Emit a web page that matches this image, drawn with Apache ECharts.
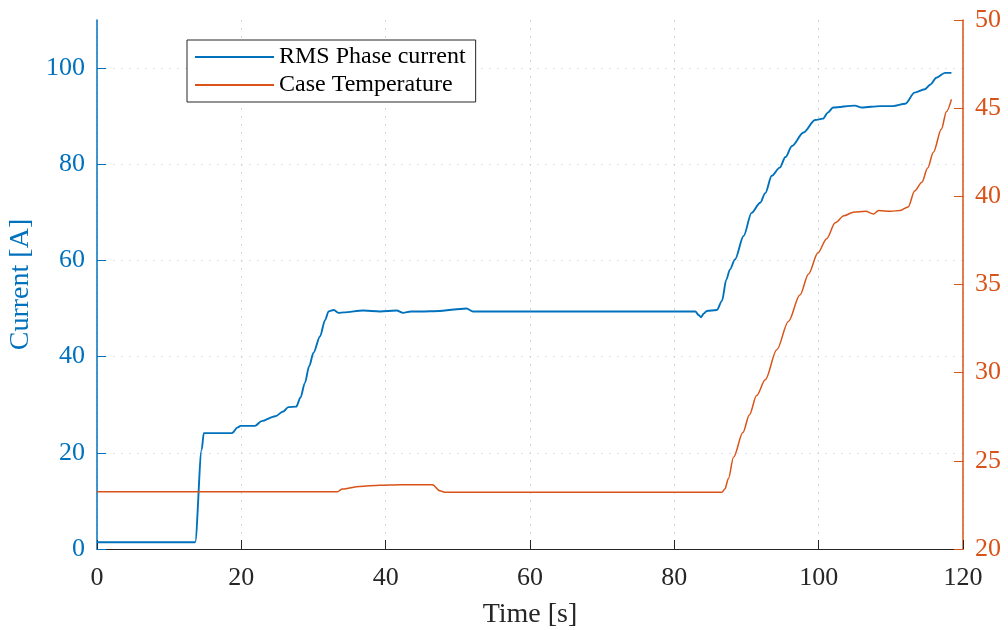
<!DOCTYPE html>
<html>
<head>
<meta charset="utf-8">
<script src="https://cdn.jsdelivr.net/npm/echarts@6/dist/echarts.min.js"></script>
<style>
html,body{margin:0;padding:0;background:#fff;}
#chart{width:1008px;height:630px;}
</style>
</head>
<body>
<div id="chart"></div>
<script>
// Tick values
const xTicks = [0, 20, 40, 60, 80, 100, 120];
const leftTicks = [0, 20, 40, 60, 80, 100];
const rightTicks = [20, 25, 30, 35, 40, 45, 50];

// RMS Phase current [A]
const currentTime = [0, 13.6, 14.5, 14.8, 18.7, 19.5, 19.9, 21.9, 22.8, 24.7, 25.8, 26.5, 27.6, 28.2, 28.8, 29.4, 30.0, 30.9, 31.6, 32.1, 32.8, 33.5, 34.2, 36.9, 39.2, 41.5, 42.4, 43.5, 44.8, 47.5, 49.5, 51.2, 52.1, 82.9, 83.4, 83.7, 84.1, 84.5, 85.9, 86.6, 87.2, 87.7, 88.4, 89.6, 90.7, 91.9, 92.6, 93.5, 94.6, 95.4, 96.3, 97.9, 99.5, 100.6, 101.3, 102.0, 105.0, 106.0, 108.5, 110.3, 112.0, 113.3, 114.7, 115.5, 116.3, 117.5, 118.4];
const currentValues = [1.4, 1.4, 20.6, 24.1, 24.1, 25.3, 25.6, 25.6, 26.6, 27.6, 28.6, 29.5, 29.6, 31.5, 34.5, 38.0, 40.8, 44.2, 47.6, 49.4, 49.7, 49.1, 49.2, 49.6, 49.4, 49.6, 49.1, 49.4, 49.4, 49.5, 49.8, 50.0, 49.4, 49.4, 48.6, 48.2, 49.0, 49.5, 49.7, 51.6, 56.0, 58.1, 60.2, 65.1, 69.9, 72.0, 74.0, 77.6, 79.3, 81.5, 83.8, 86.6, 89.2, 89.5, 90.8, 91.8, 92.2, 91.8, 92.1, 92.1, 92.6, 94.9, 95.6, 96.6, 98.0, 99.0, 99.0];

// Case Temperature
const tempTime = [0, 33.3, 34.0, 36.4, 39.2, 42.0, 46.5, 47.5, 48.2, 86.6, 87.0, 87.5, 88.2, 89.5, 90.4, 91.4, 92.6, 94.2, 95.8, 97.4, 98.6, 99.9, 101.1, 102.3, 103.5, 104.8, 106.5, 107.6, 108.3, 110.0, 111.3, 112.4, 113.3, 114.3, 115.1, 115.9, 117.0, 117.7, 118.4];
const tempValues = [23.25, 23.25, 23.4, 23.55, 23.62, 23.65, 23.65, 23.3, 23.22, 23.22, 23.4, 24.0, 25.2, 26.6, 27.6, 28.7, 29.6, 31.3, 32.9, 34.4, 35.6, 36.8, 37.6, 38.5, 38.9, 39.1, 39.15, 39.0, 39.2, 39.15, 39.2, 39.4, 40.3, 40.8, 41.6, 42.5, 43.8, 44.8, 45.5];

const BLUE = '#0072BD';
const ORANGE = '#D95319';
const DARK = '#262626';
const FONT = '"Liberation Serif", "Times New Roman", serif';

const chart = echarts.init(document.getElementById('chart'), null, {renderer: 'canvas'});
chart.setOption({
  animation: false,
  backgroundColor: '#fff',
  textStyle: {fontFamily: FONT},
  grid: {left: 97, right: 45, top: 20, bottom: 81, containLabel: false, outerBoundsMode: 'none'},
  legend: {
    orient: 'vertical',
    left: 187, top: 40,
    backgroundColor: '#fff',
    borderColor: DARK, borderWidth: 1, borderRadius: 0,
    padding: [5, 10, 5, 8],
    itemGap: 4,
    itemWidth: 79, itemHeight: 2,
    icon: 'rect',
    textStyle: {fontFamily: FONT, fontSize: 24, color: '#000'},
    data: ['RMS Phase current', 'Case Temperature']
  },
  xAxis: {
    type: 'value', min: 0, max: 120, interval: 20,
    name: 'Time [s]', nameLocation: 'middle', nameGap: 52,
    nameTextStyle: {fontFamily: FONT, fontSize: 28, color: DARK},
    axisLine: {show: true, lineStyle: {color: DARK, width: 1}},
    axisTick: {show: true, inside: true, length: 9, lineStyle: {color: DARK}},
    axisLabel: {fontFamily: FONT, fontSize: 26, color: DARK, margin: 16},
    splitLine: {show: true, lineStyle: {color: '#d6d6d6', type: [2, 6], width: 1}}
  },
  yAxis: [{
    type: 'value', min: 0, max: 110, interval: 20, position: 'left',
    name: 'Current [A]', nameLocation: 'middle', nameGap: 59,
    nameTextStyle: {fontFamily: FONT, fontSize: 28, color: BLUE},
    axisLine: {show: true, lineStyle: {color: BLUE, width: 1.5}},
    axisTick: {show: true, inside: true, length: 9, lineStyle: {color: BLUE}, customValues: leftTicks},
    axisLabel: {fontFamily: FONT, fontSize: 26, color: BLUE, margin: 12, customValues: leftTicks},
    splitLine: {show: true, lineStyle: {color: '#d4e6f3', type: [2, 6], width: 1}}
  }, {
    type: 'value', min: 20, max: 50, interval: 5, position: 'right',
    axisLine: {show: true, lineStyle: {color: ORANGE, width: 1.5}},
    axisTick: {show: true, inside: true, length: 9, lineStyle: {color: ORANGE}},
    axisLabel: {fontFamily: FONT, fontSize: 26, color: ORANGE, margin: 12},
    splitLine: {show: false}
  }],
  series: [{
    name: 'RMS Phase current', type: 'line', yAxisIndex: 0,
    data: currentTime.map((t, i) => [t, currentValues[i]]),
    showSymbol: false, symbol: 'none',
    smooth: 0.3, smoothMonotone: 'x',
    lineStyle: {color: BLUE, width: 1.9},
    itemStyle: {color: BLUE}
  }, {
    name: 'Case Temperature', type: 'line', yAxisIndex: 1,
    data: tempTime.map((t, i) => [t, tempValues[i]]),
    showSymbol: false, symbol: 'none',
    smooth: 0.3, smoothMonotone: 'x',
    lineStyle: {color: ORANGE, width: 1.5},
    itemStyle: {color: ORANGE}
  }]
});
</script>
</body>
</html>
